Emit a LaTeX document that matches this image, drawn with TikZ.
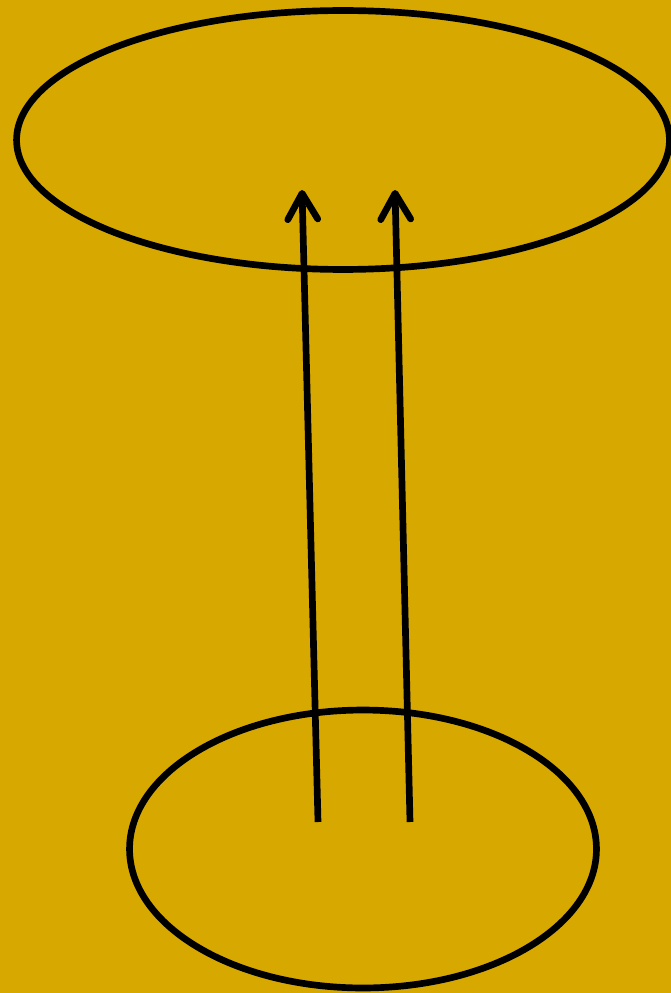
\documentclass[tikz,border=0pt]{standalone}
\usepackage{tikz}
\usetikzlibrary{arrows.meta,positioning,shapes.geometric}
\definecolor{goldbg}{HTML}{D6A800}

\begin{document}
\begin{tikzpicture}[x=0.02cm, y=-0.02cm, >={Straight Barb[length=0.52cm, width=0.6cm, round]},
    blob/.style={draw=black, ellipse, line width=3.8pt, inner sep=0pt}]
    % Background and frame
    \fill[goldbg] (0,0) rectangle (671,993);
    \useasboundingbox (0,0) rectangle (671,993);

    % The two sets
    \node[blob, minimum width=13.06cm, minimum height=5.18cm] (upper) at (343,140) {};
    \node[blob, minimum width=9.34cm, minimum height=5.56cm] (lower) at (363,849) {};

    % Arrow end points
    \coordinate (srcA) at (318,822);
    \coordinate (srcB) at (410,822);
    \coordinate (dstA) at (302,190);
    \coordinate (dstB) at (395,190);

    % Mappings
    \draw[->, line width=3.8pt] (srcA) -- (dstA);
    \draw[->, line width=3.8pt] (srcB) -- (dstB);
\end{tikzpicture}
\end{document}
